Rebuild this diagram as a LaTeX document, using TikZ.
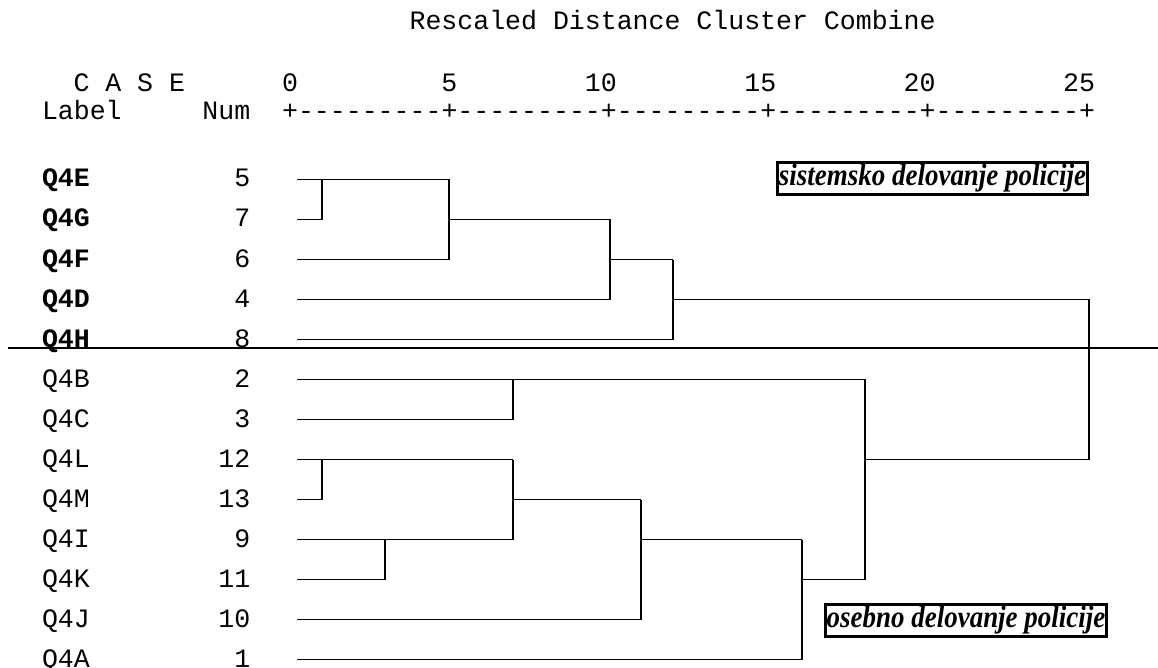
\documentclass[tikz,border=0pt]{standalone}
\usepackage{fontspec}
\setmonofont{Liberation Mono}
\newfontfamily\boxserif[FakeStretch=0.87]{Liberation Serif}
\newcommand\monofs{\fontsize{26.56pt}{30pt}\selectfont\ttfamily}
\newcommand\boxfs{\fontsize{31pt}{35pt}\selectfont\boxserif\bfseries\itshape}
\begin{document}
\begin{tikzpicture}[x=1pt,y=-1pt,
  every node/.style={inner sep=0pt,outer sep=0pt},
  lefttxt/.style={font=\monofs,anchor=base west},
  righttxt/.style={font=\monofs,anchor=base east},
  boldlab/.style={font=\monofs\bfseries,anchor=base west},
  rulechar/.style={font=\monofs,anchor=base},
  dend/.style={line width=1.9pt,line join=miter},
  sepline/.style={line width=1.9pt},
  lbox/.style={draw,line width=3pt,font=\boxfs,inner xsep=1.5pt,inner ysep=1pt,minimum height=32pt}]
\useasboundingbox (0,0) rectangle (1158,668);
% ---------- header ----------
\node[lefttxt] (title) at (409.6,30) {Rescaled Distance Cluster Combine};
\node[lefttxt] (case) at (73.5,92) {C A S E};
\node[righttxt] (n0) at (298.0,92) {0};
\node[righttxt] (n5) at (457.4,92) {5};
\node[righttxt] (n10) at (616.8,92) {10};
\node[righttxt] (n15) at (776.2,92) {15};
\node[righttxt] (n20) at (935.6,92) {20};
\node[righttxt] (n25) at (1095.0,92) {25};
\node[lefttxt] (labelhd) at (42,120) {Label};
\node[righttxt] (numhd) at (250.2,120) {Num};
\foreach \c in {0,...,50}{
  \pgfmathtruncatemacro\m{mod(\c,10)}
  \pgfmathsetmacro\xx{43+(15.5+\c)*15.94}
  \ifnum\m=0
    \node[rulechar] (rc\c) at (\xx,120) {+};
  \else
    \node[rulechar] (rc\c) at (\xx,120) {-};
  \fi
}
% ---------- rows ----------
\foreach \lab/\num/\k in {Q4E/5/0,Q4G/7/1,Q4F/6/2,Q4D/4/3,Q4H/8/4}{
  \node[boldlab] (lab\k) at (42,187+40*\k) {\lab};
  \node[righttxt] (num\k) at (250.2,187+40*\k) {\num};
}
\foreach \lab/\num/\k in {Q4B/2/5,Q4C/3/6,Q4L/12/7,Q4M/13/8,Q4I/9/9,Q4K/11/10,Q4J/10/11,Q4A/1/12}{
  \node[lefttxt] (lab\k) at (42,187+40*\k) {\lab};
  \node[righttxt] (num\k) at (250.2,187+40*\k) {\num};
}
% ---------- leaf coordinates ----------
\coordinate (E) at (297,179.5);
\coordinate (G) at (297,219.5);
\coordinate (F) at (297,259.5);
\coordinate (D) at (297,299.5);
\coordinate (H) at (297,339.5);
\coordinate (B) at (297,379.5);
\coordinate (C) at (297,419.5);
\coordinate (L) at (297,459.5);
\coordinate (M) at (297,499.5);
\coordinate (I) at (297,539.5);
\coordinate (K) at (297,579.5);
\coordinate (J) at (297,619.5);
\coordinate (A) at (297,659.5);
% ---------- join coordinates ----------
\coordinate (jEG) at (322,179.5);
\coordinate (jEGF) at (449,179.5);
\coordinate (jEGFD) at (610,219.5);
\coordinate (jTop) at (673,259.5);
\coordinate (jRoot) at (1089,299.5);
\coordinate (jBC) at (513,379.5);
\coordinate (jLM) at (322,459.5);
\coordinate (jIK) at (385,539.5);
\coordinate (jLMIK) at (513,459.5);
\coordinate (jJ) at (641,499.5);
\coordinate (jA) at (802,539.5);
\coordinate (jBot) at (865,379.5);
% ---------- dendrogram ----------
\draw[dend] (E) -- (jEGF);
\draw[dend] (G) -| (jEG);
\draw[dend] (F) -| (jEGF);
\draw[dend] (jEGF |- G) -- (jEGFD);
\draw[dend] (D) -| (jEGFD);
\draw[dend] (jEGFD |- F) -- (jTop);
\draw[dend] (H) -| (jTop);
\draw[dend] (jTop |- D) -- (jRoot) -- (jRoot |- L);
\draw[dend] (B) -- (jBot) -- (jBot |- K);
\draw[dend] (C) -| (jBC);
\draw[dend] (jBot |- L) -- (jRoot |- L);
\draw[dend] (L) -- (jLMIK);
\draw[dend] (M) -| (jLM);
\draw[dend] (I) -| (jLMIK);
\draw[dend] (K) -| (jIK);
\draw[dend] (jLMIK |- M) -- (jJ);
\draw[dend] (J) -| (jJ);
\draw[dend] (jJ |- I) -- (jA);
\draw[dend] (A) -| (jA);
\draw[dend] (jA |- K) -- (jBot |- K);
% ---------- separator ----------
\coordinate (sepL) at (8,348);
\coordinate (sepR) at (1158,348);
\draw[sepline] (sepL) -- (sepR);
% ---------- labels ----------
\node[lbox] (sys) at (932.5,178.5) {sistemsko delovanje policije};
\node[lbox] (oseb) at (966,620) {osebno delovanje policije};
\end{tikzpicture}
\end{document}
